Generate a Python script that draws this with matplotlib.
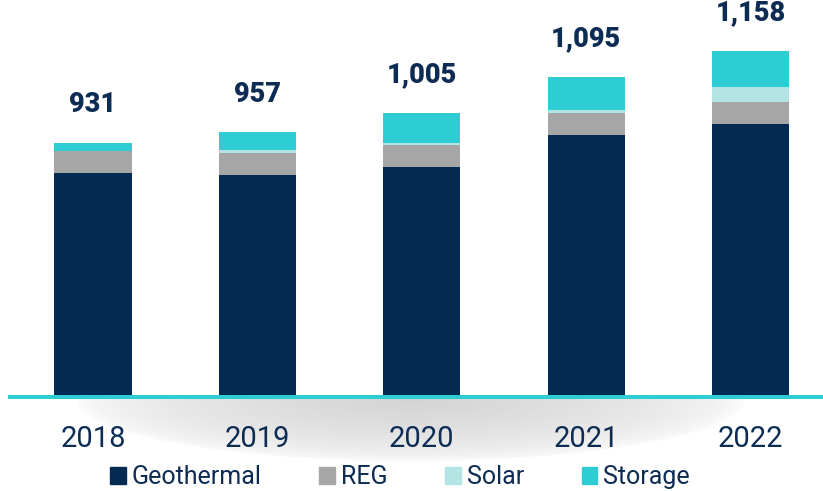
import numpy as np
import matplotlib
matplotlib.use("Agg")
import matplotlib.pyplot as plt
from matplotlib.patches import Rectangle

# data
years = ["2018", "2019", "2020", "2021", "2022"]
totals = [931, 957, 1005, 1095, 1158]
reg = [54, 53, 53, 54, 53]
solar = [0, 7, 7, 7, 37]
storage = [20, 44, 73, 83, 89]
geothermal = [t - r - s - st for t, r, s, st in zip(totals, reg, solar, storage)]

series = ["Geothermal", "REG", "Solar", "Storage"]
colors = ["#022a53", "#a6a6a6", "#b2e4e3", "#2ecdd3"]
navy = "#0d2c54"

plt.rcParams['font.family'] = ['Roboto', 'DejaVu Sans']

W, H = 823, 491
fig = plt.figure(figsize=(W / 100, H / 100), dpi=100)

# soft shadow under the baseline
sh = fig.add_axes([0, 0, 1, 1], zorder=0)
sh.set_xlim(0, W)
sh.set_ylim(H, 0)
sh.axis('off')
xx, yy = np.meshgrid(np.arange(70, 760), np.arange(399, 470))
r = np.sqrt(((xx - 410) / 335.0) ** 2 + ((yy - 399) / 62.0) ** 2)
a = np.clip(1 - r, 0, 1) ** 0.5 * 0.26
img = np.zeros(xx.shape + (4,))
img[..., :3] = 0.35
img[..., 3] = a
sh.imshow(img, extent=(70, 760, 470, 399), aspect='auto', interpolation='bilinear')

# main axes: bottom at the baseline (397 px from top)
x0 = 10 / W
ax = fig.add_axes([x0, (H - 397) / H, 1 - x0, 397 / H], zorder=1)
ax.patch.set_alpha(0)
x = np.arange(len(years))
bottom = np.zeros(len(years))
for name, vals, c in zip(series, [geothermal, reg, solar, storage], colors):
    ax.bar(x, vals, bottom=bottom, width=0.47, color=c, label=name)
    bottom += np.array(vals)

ax.set_xlim(-0.505, 4.44)
ax.set_ylim(304, 1284)
ax.axhline(304, color="#2ecdd3", lw=2.9, clip_on=False, zorder=5)
for s in ax.spines.values():
    s.set_visible(False)
ax.set_yticks([])
ax.set_xticks(x)
ax.set_xticklabels(years, fontsize=21, color=navy)
ax.tick_params(axis='x', length=0, pad=20)

for xi, t in zip(x, totals):
    ax.annotate(f"{t:,}", (xi, t), xytext=(0, 22), textcoords='offset points',
                ha='center', va='baseline', fontsize=19.5, fontweight='black', color=navy)

handles = [Rectangle((0, 0), 1, 1, color=c) for c in colors]
fig.legend(handles, series, loc='center', bbox_to_anchor=(0.486, 0.028), ncol=4,
           frameon=False, fontsize=18, handlelength=0.62, handleheight=0.62,
           handletextpad=0.25, columnspacing=2.3, labelcolor=navy)

fig.savefig("out.png", dpi=100)
